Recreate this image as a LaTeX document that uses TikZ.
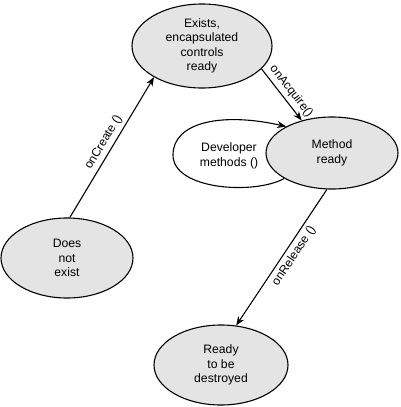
\documentclass[tikz,border=0pt]{standalone}
\usepackage{fontspec}
\setmainfont{Liberation Sans}
\usetikzlibrary{shapes.geometric,arrows.meta,backgrounds}
\tikzset{
  state/.style={ellipse, draw=black, line width=1.1pt, fill=stategray, inner sep=0pt,
    align=center, font=\fontsize{12.2pt}{14.5pt}\selectfont},
  conn/.style={line width=1.1pt, -{Stealth[length=9pt,width=7pt]}},
  lbl/.style={font=\fontsize{12pt}{14pt}\selectfont, sloped, inner sep=3.5pt}
}
\definecolor{stategray}{HTML}{E4E4E4}
\begin{document}
\begin{tikzpicture}[x=1pt,y=-1pt]
\useasboundingbox (0,0) rectangle (400,407);
\node[state, minimum width=140pt, minimum height=84pt] (ex) at (202,46) {Exists,\\encapsulated\\controls\\ready};
\node[state, minimum width=132pt, minimum height=72pt] (mr) at (332,153) {Method\\ready};
\node[state, minimum width=132pt, minimum height=80pt] (dne) at (67,258) {Does\\not\\exist};
\node[state, minimum width=134pt, minimum height=80pt] (rd) at (221,365) {Ready\\to be\\destroyed};
\begin{pgfonlayer}{background}
\fill[white] (mr.208) .. controls (255,195) and (173,190) .. (173,155)
   .. controls (173,122) and (222,112) .. (mr.150) -- cycle;
\draw[conn] (mr.208) .. controls (255,195) and (173,190) .. (173,155)
   .. controls (173,122) and (222,112) .. (mr.150);
\end{pgfonlayer}
\node[font=\fontsize{12.2pt}{14.5pt}\selectfont, align=center] (dev) at (229,156) {Developer\\methods ()};
\draw[conn] (dne.86) -- node[lbl, above] {onCreate ()} (ex.213);
\draw[conn] (ex.339) -- node[lbl, above, pos=0.55] {onAcquire()} (mr.133);
\draw[conn] (mr.262) -- node[lbl, below, pos=0.45] {onRelease ()} (rd.69);
\end{tikzpicture}
\end{document}
